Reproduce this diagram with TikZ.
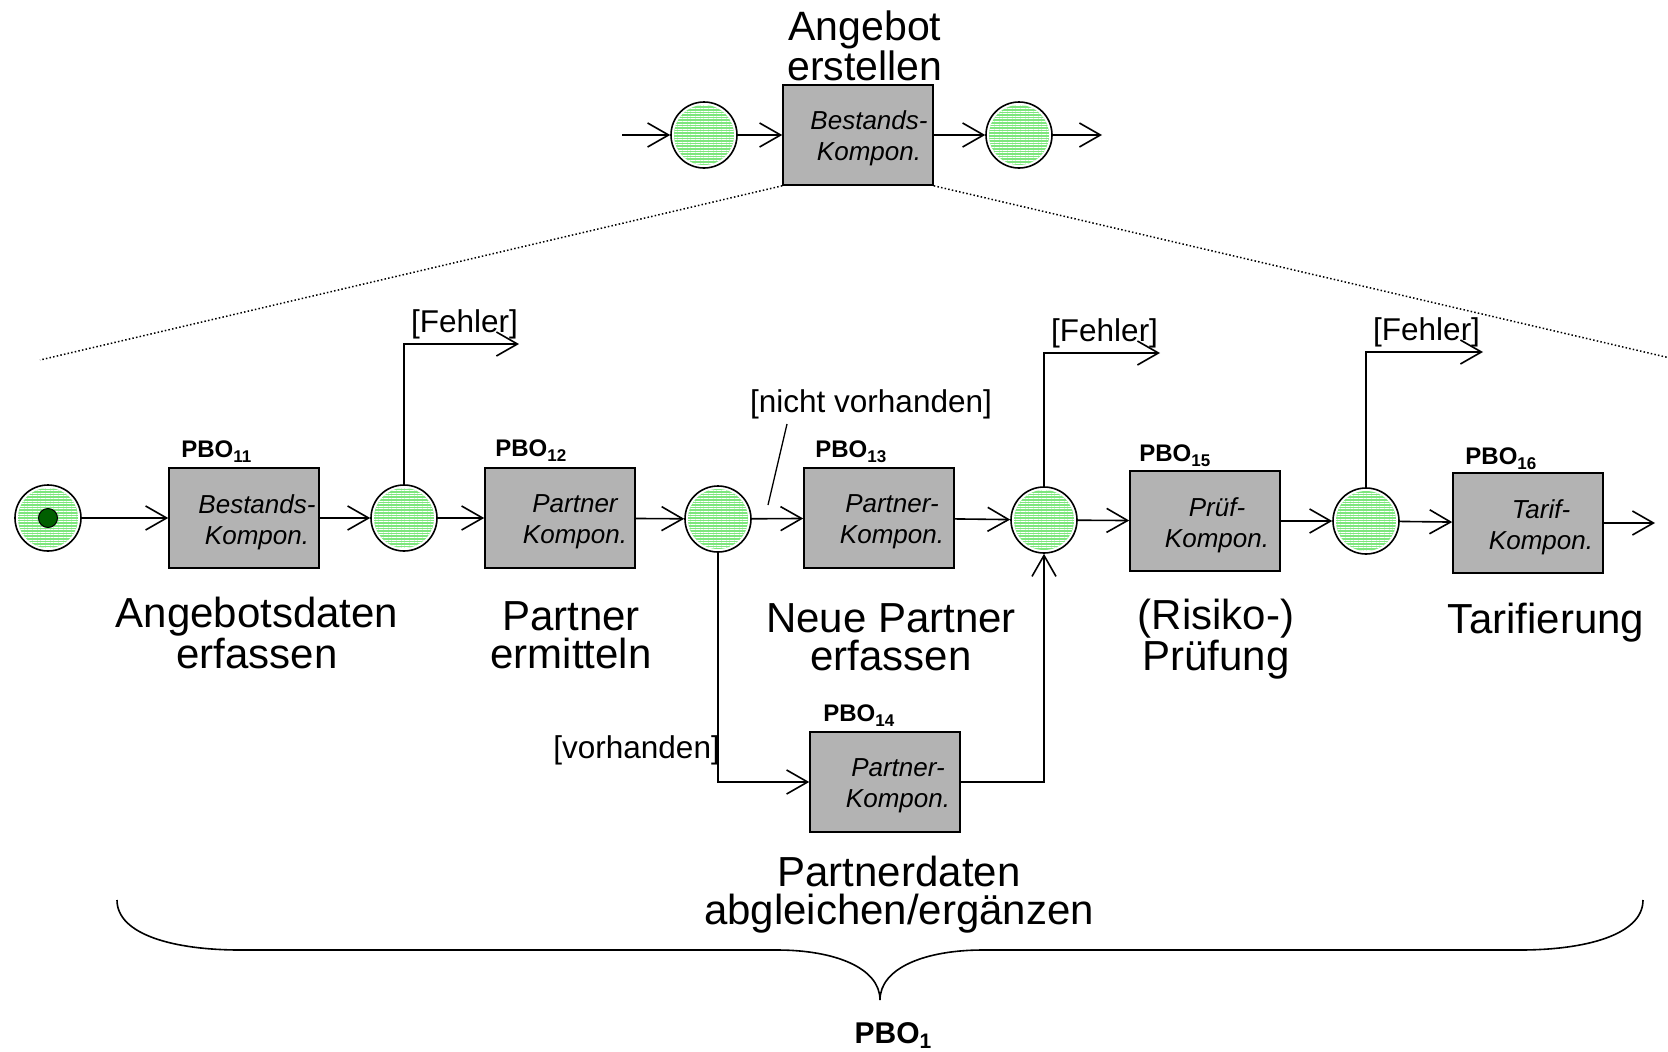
\documentclass[tikz,border=0pt]{standalone}
\usepackage{fontspec}
\setmainfont{Liberation Sans}
\usetikzlibrary{arrows.meta,patterns.meta}

\definecolor{placegreen}{RGB}{125,230,125}
\definecolor{tokengreen}{RGB}{0,95,0}
\definecolor{boxgray}{RGB}{179,179,179}

\newcommand\fsz[2]{\fontsize{#1}{#2}\selectfont}
\newcommand\pbolabel[1]{PBO\raisebox{-5pt}{\fsz{17}{17}#1}}

\tikzset{
  flow/.style={line width=1.6pt, -{Straight Barb[length=21pt,width=24pt]}},
  plain/.style={line width=1.6pt},
  dotline/.style={line width=1.5pt, dash pattern=on 1.5pt off 2.2pt},
  place/.style={circle, draw, line width=1.6pt, fill=white, minimum size=66pt,
    inner sep=0pt,
    path picture={
      \fill[placegreen] (path picture bounding box.center) circle (30pt);
      \fill[pattern={Lines[angle=0,distance=2.6pt,line width=0.45pt]},
            pattern color=white] (path picture bounding box.center) circle (30pt);
    }},
  token/.style={circle, draw, line width=1pt, fill=tokengreen, minimum size=19pt,
    inner sep=0pt},
  procbox/.style={draw, line width=1.6pt, fill=boxgray, minimum width=150pt,
    minimum height=100pt, inner sep=0pt},
  boxtext/.style={font=\fsz{26}{31}\itshape, align=center, inner sep=0pt},
  bigtext/.style={font=\fsz{42}{38}, align=center, inner sep=0pt, anchor=base},
  toptext/.style={font=\fsz{41}{35}, align=center, inner sep=0pt, anchor=base},
  cond/.style={font=\fsz{31.5}{36}, inner sep=0pt},
  pbo/.style={font=\fsz{24}{24}\bfseries, inner sep=0pt, anchor=base west},
}

\begin{document}
\begin{tikzpicture}[x=1pt,y=-1pt]
\clip (0,0) rectangle (1668,1052);
\useasboundingbox (0,0) rectangle (1668,1052);

% ---------- refined transition ----------
\coordinate (tin) at (622,135);
\coordinate (tout) at (1102,135);
\node[place] (t1) at (704,135) {};
\node[procbox] (tb) at (858,135) {};
\node[boxtext] (tbt) at ([xshift=11pt,yshift=-3pt]tb.center) {Bestands-\\Kompon.};
\node[place] (t2) at (1019,135) {};
% base anchor of a two-line node sits on its last line
\node[toptext] (ttl) at (865,80) {Angebot\\erstellen};

\draw[flow] (tin) -- (t1);
\draw[flow] (t1) -- (tb);
\draw[flow] (tb) -- (t2);
\draw[flow] (t2) -- (tout);

% zoom lines
\coordinate (zl) at (40,360);
\coordinate (zr) at (1700,365);
\draw[dotline] (tb.south west) -- (zl);
\draw[dotline] (tb.south east) -- (zr);

% ---------- detailed net ----------
\node[place] (s) at (48,518) {};
\node[token] (tok) at (s.center) {};
\node[procbox] (p11) at (244,518) {};
\node[place] (c2) at (404,518) {};
\node[procbox] (p12) at (560,518) {};
\node[place] (c3) at (718,519) {};
\node[procbox] (p13) at (879,518) {};
\node[place] (c4) at (1044,520) {};
\node[procbox] (p15) at (1205,521) {};
\node[place] (c5) at (1366,521) {};
\node[procbox] (p16) at (1528,523) {};
\node[procbox] (p14) at (885,782) {};
\coordinate (out) at (1655,523);

% component texts
\node[boxtext] (p11t) at ([xshift=13pt,yshift=-4pt]p11.center) {Bestands-\\Kompon.};
\node[boxtext] (p12t) at ([xshift=15pt,yshift=-4pt]p12.center) {Partner\\Kompon.};
\node[boxtext] (p13t) at ([xshift=13pt,yshift=-4pt]p13.center) {Partner-\\Kompon.};
\node[boxtext] (p14t) at ([xshift=13pt,yshift=-4pt]p14.center) {Partner-\\Kompon.};
\node[boxtext] (p15t) at ([xshift=12pt,yshift=-4pt]p15.center) {Prüf-\\Kompon.};
\node[boxtext] (p16t) at ([xshift=13pt,yshift=-4pt]p16.center) {Tarif-\\Kompon.};

% PBO labels
\node[pbo] (l11) at ([xshift=13pt,yshift=10pt]p11.north west) {\pbolabel{11}};
\node[pbo] (l12) at ([xshift=11pt,yshift=11pt]p12.north west) {\pbolabel{12}};
\node[pbo] (l13) at ([xshift=12pt,yshift=10pt]p13.north west) {\pbolabel{13}};
\node[pbo] (l14) at ([xshift=14pt,yshift=10pt]p14.north west) {\pbolabel{14}};
\node[pbo] (l15) at ([xshift=10pt,yshift=9pt]p15.north west) {\pbolabel{15}};
\node[pbo] (l16) at ([xshift=13pt,yshift=8pt]p16.north west) {\pbolabel{16}};

% activity names (y = baseline of the last line)
\node[bigtext] (n11) at (257,668) {Angebotsdaten\\erfassen};
\node[bigtext] (n12) at (571,668) {Partner\\ermitteln};
\node[bigtext] (n13) at (891,670) {Neue Partner\\erfassen};
\node[bigtext] (n15) at (1216,670) {(Risiko-)\\Prüfung};
\node[bigtext] (n16) at (1546,633) {Tarifierung};
\node[bigtext] (n14) at (899,924) {Partnerdaten\\abgleichen/ergänzen};

% main flow
\draw[flow] (s) -- (p11);
\draw[flow] (p11) -- (c2);
\draw[flow] (c2) -- (p12);
\draw[flow] (p12) -- (c3);
\draw[flow] (c3) -- (p13);
\draw[flow] (p13) -- (c4);
\draw[flow] (c4) -- (p15);
\draw[flow] (p15) -- (c5);
\draw[flow] (c5) -- (p16);
\draw[flow] (p16) -- (out);

% alternative branch
\draw[flow] (c3) |- (p14);
\draw[flow] (p14) -| (c4);
\node[cond, anchor=base east] (cv) at (720,758) {[vorhanden]};
\node[cond, anchor=base west] (cnv) at (750,412) {[nicht vorhanden]};
\coordinate (lnA) at (787,424);
\coordinate (lnB) at (768,505);
\draw[line width=1.3pt] (lnA) -- (lnB);

% error exits
\coordinate (e1) at (519,344);
\coordinate (e2) at (1160,353);
\coordinate (e3) at (1483,352);
\draw[flow] (c2) |- (e1);
\draw[flow] (c4) |- (e2);
\draw[flow] (c5) |- (e3);
\node[cond, anchor=base west] (f1) at (411,332) {[Fehler]};
\node[cond, anchor=base west] (f2) at (1051,341) {[Fehler]};
\node[cond, anchor=base west] (f3) at (1373,340) {[Fehler]};

% brace over the whole refinement
\draw[line width=1.6pt]
  (117,900) .. controls (117,935) and (175,950) .. (240,950)
  -- (777,950) .. controls (835,950) and (880,968) .. (880,1000)
  .. controls (880,968) and (925,950) .. (983,950)
  -- (1520,950) .. controls (1585,950) and (1643,935) .. (1643,900);
\node[font=\fsz{30}{30}\bfseries, inner sep=0pt, anchor=base] (pbo1) at (893,1043)
  {PBO\raisebox{-5pt}{\fsz{21}{21}1}};

\end{tikzpicture}
\end{document}
